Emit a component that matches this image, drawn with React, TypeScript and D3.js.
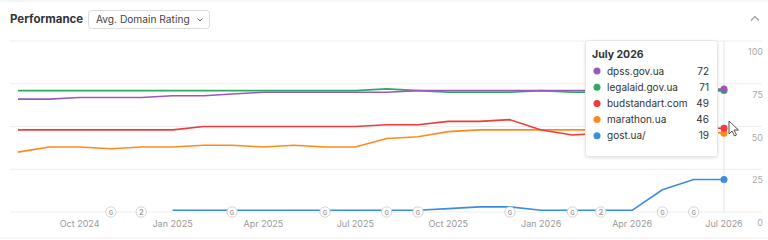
import React from "react";
import * as d3 from "d3";

// monthly points, Aug 2024 .. Jul 2026
const months = [
  "2024-08", "2024-09", "2024-10", "2024-11", "2024-12",
  "2025-01", "2025-02", "2025-03", "2025-04", "2025-05", "2025-06",
  "2025-07", "2025-08", "2025-09", "2025-10", "2025-11", "2025-12",
  "2026-01", "2026-02", "2026-03", "2026-04", "2026-05", "2026-06", "2026-07",
];

const dpss = [66, 66, 67, 67, 67, 68, 68, 69, 70, 70, 70, 70, 70, 71, 71, 71, 71, 71, 71, 71, 71, 71, 71, 72];
const legalaid = [71, 71, 71, 71, 71, 71, 71, 71, 71, 71, 71, 71, 72, 71, 70, 70, 70, 71, 70, 70, 70, 70, 70, 71];
const budstandart = [48, 48, 48, 48, 48, 48, 50, 50, 50, 50, 50, 50, 51, 51, 53, 53, 54, 48, 45, 46, 47, 48, 49, 49];
const marathon = [35, 38, 38, 37, 38, 38, 39, 39, 38, 39, 38, 38, 43, 44, 47, 48, 48, 48, 48, 48, 48, 48, 48, 46];
const gost = [null, null, null, null, null, 1, 1, 1, 1, 1, 1, 1, 1, 1, 2, 3, 3, 1, 1, 1, 1, 13, 19, 19];

const seriesNames = ["dpss.gov.ua", "legalaid.gov.ua", "budstandart.com", "marathon.ua", "gost.ua/"];
const seriesColors = ["#9b59b6", "#2eaa62", "#ef3b3b", "#ff8a1c", "#3a8ee0"];
const seriesValues = [dpss, legalaid, budstandart, marathon, gost];

// annotation markers on the baseline
const markerMonths = ["2024-11", "2024-12", "2025-03", "2025-06", "2025-08", "2025-09", "2025-12", "2026-02", "2026-03", "2026-05", "2026-06"];
const markerLabels = ["G", "2", "G", "G", "G", "G", "G", "G", "2", "G", "G"];

const yTicks = [0, 25, 50, 75, 100];
const tooltipTitle = "July 2026";

const W = 768;
const H = 240;
const FONT = "Inter, 'Noto Sans', sans-serif";

const parse = d3.timeParse("%Y-%m");

const App = () => {
  const dates = months.map((m) => parse(m) as Date);
  const x = d3.scaleTime().domain([dates[0], dates[dates.length - 1]]).range([18, 724]);
  const y = d3.scaleLinear().domain([0, 100]).range([212, 41]);

  const line = d3
    .line<number | null>()
    .defined((d) => d !== null)
    .x((_, i) => x(dates[i]))
    .y((d) => y(d as number));

  const xTicks = d3.timeMonth.every(3)!.range(parse("2024-10")!, d3.timeDay.offset(dates[dates.length - 1], 1));
  const fmt = d3.timeFormat("%b %Y");
  const last = dates.length - 1;
  const hoverX = x(dates[last]);

  // tooltip box
  const tipX = 585;
  const tipY = 40;
  const tipW = 132;
  const tipH = 116;
  const drawOrder = [4, 3, 2, 1, 0];

  return (
    <svg width={W} height={H} style={{ position: "absolute", left: 0, top: 0, fontFamily: FONT }}>
      <defs>
        <filter id="sh" x="-20%" y="-20%" width="140%" height="140%">
          <feDropShadow dx="0" dy="1" stdDeviation="1.5" floodColor="#000" floodOpacity="0.12" />
        </filter>
      </defs>
      <rect x={-2} y={1} width={W + 4} height={237} fill="#fff" stroke="#ececec" />

      {/* header */}
      <text x={10} y={23} fontSize={11.5} fontWeight={700} fill="#333">Performance</text>
      <rect x={88.5} y={10.5} width={121} height={18} rx={3} fill="#fff" stroke="#dcdcdc" />
      <text x={96} y={23} fontSize={10.2} fill="#444">Avg. Domain Rating</text>
      <path d="M197.5,18.5 l2.5,2.5 l2.5,-2.5" fill="none" stroke="#666" strokeWidth={1} />
      <path d="M751,20.5 l4,-4 l4,4" fill="none" stroke="#999" strokeWidth={1.2} />

      {/* grid */}
      {yTicks.map((t) => (
        <g key={t}>
          <line x1={10} x2={762} y1={y(t)} y2={y(t)} stroke="#eeeeee" />
          <text x={763} y={y(t) + 14} fontSize={9} fill="#aaa" textAnchor="end">{t}</text>
        </g>
      ))}
      <line x1={hoverX} x2={hoverX} y1={41} y2={212} stroke="#e6e6e6" />

      {xTicks.map((d) => (
        <text key={+d} x={x(d)} y={227} fontSize={9} fill="#999" textAnchor="middle">{fmt(d)}</text>
      ))}

      {/* series */}
      {drawOrder.map((i) => (
        <path key={seriesNames[i]} d={line(seriesValues[i] as (number | null)[]) || ""} fill="none"
          stroke={seriesColors[i]} strokeWidth={1.6} strokeLinejoin="round" />
      ))}
      {drawOrder.map((i) => (
        <circle key={"dot" + i} cx={hoverX} cy={y(seriesValues[i][last] as number)} r={3.5} fill={seriesColors[i]} />
      ))}

      {/* annotation markers */}
      {markerMonths.map((m, i) => (
        <g key={m} transform={`translate(${x(parse(m) as Date)},${y(0)})`}>
          <circle r={5.2} fill="#fff" stroke="#d4d4d4" />
          <text y={2.5} fontSize={i === 1 || i === 8 ? 7.5 : 6} fontWeight={600} fill="#999" textAnchor="middle">{markerLabels[i]}</text>
        </g>
      ))}

      {/* tooltip */}
      <rect x={tipX + 0.5} y={tipY + 0.5} width={tipW} height={tipH} rx={3} fill="#fff" stroke="#e6e6e6" filter="url(#sh)" />
      <text x={tipX + 7} y={tipY + 18} fontSize={10.5} fontWeight={700} fill="#333">{tooltipTitle}</text>
      {seriesNames.map((n, i) => {
        const cy = tipY + 31 + i * 16.2;
        return (
          <g key={n}>
            <circle cx={tipX + 12} cy={cy} r={3.5} fill={seriesColors[i]} />
            <text x={tipX + 22} y={cy + 3.5} fontSize={10} fill="#333">{n}</text>
            <text x={tipX + 124} y={cy + 3.5} fontSize={10} fill="#333" textAnchor="end">{seriesValues[i][last]}</text>
          </g>
        );
      })}

      {/* mouse cursor */}
      <path transform={`translate(${hoverX + 5},${121})`} d="M0,0 L0,13 L3,10 L5.5,15 L7.5,14 L5,9 L9.5,9 Z"
        fill="#fff" stroke="#222" strokeWidth={0.8} strokeLinejoin="round" />
    </svg>
  );
};

export default App;
